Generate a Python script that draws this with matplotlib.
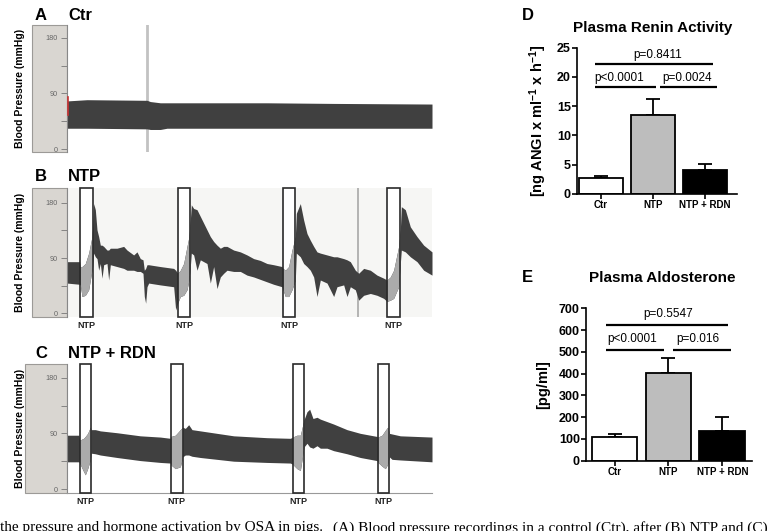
import numpy as np
import matplotlib
matplotlib.use("Agg")
import matplotlib.pyplot as plt
from matplotlib.patches import Rectangle

plt.rcParams["font.family"] = ["Liberation Sans", "DejaVu Sans"]
plt.rcParams["mathtext.fontset"] = "custom"
plt.rcParams["mathtext.rm"] = "Liberation Sans:bold"
plt.rcParams["mathtext.bf"] = "Liberation Sans:bold"
plt.rcParams["mathtext.default"] = "bf"

# ---- blood pressure envelopes (time in min, mmHg) ----
t_ctr = [0, 6, 24, 25, 28, 30, 60, 80, 109.5]
up_ctr = [78, 80, 79, 77, 75, 75, 75, 74, 73]
lo_ctr = [34, 34, 33, 32, 32, 34, 34, 34, 34]

t_ntp = [0, 3.8, 4.0, 4.5, 5.5, 6.5, 7.5, 7.7, 8.0, 8.5, 9.0, 9.5, 10.0, 10.5,
         11.0, 12.0, 12.5, 13.0, 15.0, 17.0, 18.0, 20.0, 21.0, 22.0, 22.8, 23.2,
         23.6, 24.0, 24.5, 28.0, 32.0, 32.6, 33.2, 34.0, 35.0, 36.0, 36.6, 37.0,
         37.3, 38.0, 39.0, 40.0, 41.0, 42.0, 43.0, 44.0, 45.0, 46.0, 47.0, 48.0,
         50.0, 52.0, 54.0, 56.0, 58.0, 60.0, 62.0, 64.5, 64.8, 65.5, 66.5, 67.5,
         68.5, 68.8, 70.0, 71.0, 72.0, 73.0, 74.0, 75.0, 76.0, 78.0, 80.0, 81.0,
         83.0, 84.0, 85.0, 86.5, 87.5, 89.0, 91.0, 93.0, 95.0, 96.0, 97.0, 98.0,
         99.5, 100.0, 100.3, 101.5, 103.0, 105.0, 107.0, 109.5]
up_ntp = [84, 84, 76, 76, 81, 98, 125, 141, 179, 169, 136, 125, 111, 111,
          109, 103, 103, 106, 106, 109, 103, 95, 100, 89, 87, 70,
          73, 79, 79, 76, 73, 70, 65, 70, 81, 109, 125, 152,
          177, 171, 169, 158, 147, 136, 125, 117, 111, 106, 109, 109,
          103, 100, 95, 89, 86, 81, 79, 76, 73, 70, 76, 103,
          125, 163, 179, 152, 130, 119, 109, 100, 98, 95, 92, 92,
          89, 87, 84, 70, 65, 73, 70, 62, 57, 54, 59, 70,
          109, 136, 174, 169, 141, 125, 111, 100]
lo_ntp = [49, 47, 46, 27, 29, 38, 70, 76, 98, 92, 89, 70, 81, 57,
          79, 81, 54, 79, 76, 73, 70, 70, 68, 68, 65, 27,
          16, 43, 49, 46, 43, 5, 16, 27, 29, 38, 54, 76,
          98, 95, 70, 87, 84, 81, 49, 76, 40, 59, 65, 70,
          68, 68, 62, 59, 55, 51, 47, 43, 38, 27, 27, 38,
          54, 98, 92, 81, 76, 70, 59, 27, 54, 49, 27, 43,
          46, 27, 43, 38, 21, 29, 32, 29, 24, 19, 21, 24,
          43, 81, 103, 100, 92, 84, 70, 62]

t_rdn = [0, 3.6, 3.8, 5.0, 5.5, 6.2, 7.0, 7.2, 8.5, 10, 15, 22, 28, 31, 31.2,
         32.5, 34.0, 34.7, 35.5, 36.5, 37.5, 40, 45, 50, 60, 67, 67.7, 69, 70,
         71.1, 72, 72.8, 73.8, 75, 76, 78, 80, 84, 88, 93, 93.3, 94.5, 95.5,
         96.2, 96.7, 97.5, 100, 109.5]
up_rdn = [87, 87, 79, 82, 85, 90, 100, 96, 96, 94, 91, 86, 84, 82, 85,
          87, 96, 100, 98, 104, 96, 94, 90, 86, 83, 82, 84, 87, 87,
          112, 125, 129, 114, 116, 113, 109, 105, 96, 90, 85, 84, 87, 95,
          100, 90, 89, 86, 84]
lo_rdn = [44, 44, 42, 28, 23, 33, 47, 58, 57, 55, 51, 46, 43, 42, 39,
          33, 36, 52, 55, 55, 53, 51, 48, 45, 43, 42, 40, 33, 30,
          68, 74, 68, 66, 70, 66, 66, 62, 57, 51, 46, 43, 37, 33,
          40, 52, 48, 47, 44]

# NTP application windows (min)
ntp_windows_b = [(4.0, 7.7), (33.2, 37.0), (64.8, 68.5), (96.0, 100.0)]
ntp_windows_c = [(3.8, 7.2), (31.2, 34.7), (67.7, 71.1), (93.3, 96.7)]

# ---- bar charts ----
groups = ["Ctr", "NTP", "NTP + RDN"]
renin = [2.7, 13.5, 4.1]
renin_sem = [0.4, 2.7, 1.1]
aldo = [110, 401, 138]
aldo_sem = [12, 72, 64]
renin_p = ["p=0.8411", "p<0.0001", "p=0.0024"]
aldo_p = ["p=0.5547", "p<0.0001", "p=0.016"]

W, H = 775, 531
fig = plt.figure(figsize=(W / 100, H / 100), dpi=100)


def px_rect(l, t, r, b):
    return [l / W, 1 - b / H, (r - l) / W, (b - t) / H]


def trace_panel(l, t, r, b, strip_l, tt, up, lo, ylim, letter, title, title_y,
                windows=(), label_y=None, bg="white", bottom=False):
    ax = fig.add_axes(px_rect(l, t, r, b))
    ax.set_facecolor(bg)
    fig.patches.append(Rectangle((strip_l / W, 1 - b / H), (l - strip_l) / W, (b - t) / H,
                                 transform=fig.transFigure, fc="#d9d6d1", ec="#9c9a97",
                                 lw=0.8, zorder=-1))
    tt, up, lo = np.array(tt), np.array(up), np.array(lo)
    ax.set_xlim(0, 109.5)
    ax.set_ylim(*ylim)
    for a, e in windows:
        ax.axvspan(a, e, color="white", zorder=1)
    ax.fill_between(tt, lo, up, color="#404040", lw=0, zorder=2)
    for a, e in windows:
        m = (tt >= a) & (tt <= e)
        ax.fill_between(tt[m], lo[m], up[m], color="#ababab", lw=0, zorder=3)
        ax.add_patch(Rectangle((a, ylim[0]), e - a, ylim[1] - ylim[0], fill=False,
                               ec="#2a2a2a", lw=1.2, zorder=4, clip_on=False))
        ya = (b - label_y) / (b - t)
        ax.text((a + e) / 2, ya, "NTP", transform=ax.get_xaxis_transform(),
                ha="center", va="center", fontsize=6.5, fontweight="bold", color="#222")
    for s in ["top", "right"]:
        ax.spines[s].set_visible(False)
    ax.spines["bottom"].set_visible(bottom)
    ax.spines["bottom"].set_color("#999")
    ax.spines["left"].set_color("#888")
    ax.spines["left"].set_linewidth(0.8)
    ax.set_xticks([])
    ax.set_yticks([0, 90, 180])
    ax.set_yticks([45, 135], minor=True)
    ax.tick_params(axis="y", which="both", length=4, width=0.6, color="#777",
                   labelsize=5.2, labelcolor="#666", pad=3)
    fig.text(20 / W, 1 - (t + b) / 2 / H, "Blood Pressure (mmHg)", rotation=90,
             ha="center", va="center", fontsize=7.5, fontweight="bold")
    fig.text(35 / W, 1 - title_y / H, letter, ha="left", va="center",
             fontsize=12, fontweight="bold")
    fig.text(68 / W, 1 - title_y / H, title, ha="left", va="center",
             fontsize=12, fontweight="bold")
    return ax


axA = trace_panel(67, 25, 432, 152, 32, t_ctr, up_ctr, lo_ctr, (-4.3, 200.4),
                  "A", "Ctr", 15)
axA.axvline(24.1, color="#c2c2c2", lw=2, zorder=1.5)
axA.plot([0.15, 0.15], [55, 84], color="#c83232", lw=1.2, zorder=3)

axB = trace_panel(67, 188.3, 432, 316.7, 32, t_ntp, up_ntp, lo_ntp, (-6, 204),
                  "B", "NTP", 177, ntp_windows_b, 326, bg="#f6f6f4")
axB.axvline(87.3, color="#a8a8a8", lw=1.2, zorder=1.5)

axC = trace_panel(67, 364.3, 432, 492.7, 25, t_rdn, up_rdn, lo_rdn, (-5.9, 201.6),
                  "C", "NTP + RDN", 354, ntp_windows_c, 501, bottom=True)


def bar_panel(l, t, r, b, vals, sem, ylim, ystep, xlim, spans, heights, labels,
              text_x, text_dy, title, title_x, title_y, letter, letter_y,
              ylabel, ylabel_x, ylabel_size):
    ax = fig.add_axes(px_rect(l, t, r, b))
    x = np.arange(len(groups))
    ax.bar(x, vals, width=0.85, color=["white", "#bdbdbd", "black"],
           edgecolor="black", lw=1.3, zorder=2)
    ax.errorbar(x, vals, yerr=[np.zeros(len(x)), sem], fmt="none", ecolor="black",
                elinewidth=1.3, capsize=5, capthick=1.3, zorder=1)
    ax.set_xlim(*xlim)
    ax.set_ylim(*ylim)
    ax.set_yticks(np.arange(0, ylim[1] + 1, ystep))
    ax.set_xticks(x)
    ax.set_xticklabels(groups)
    for s in ["top", "right"]:
        ax.spines[s].set_visible(False)
    for s in ["left", "bottom"]:
        ax.spines[s].set_linewidth(1.2)
    ax.tick_params(axis="y", length=3.5, width=1.2, pad=1, labelsize=9)
    ax.tick_params(axis="x", length=3.5, width=1.2, pad=1, labelsize=7)
    for lab in ax.get_yticklabels() + ax.get_xticklabels():
        lab.set_fontweight("bold")
    for (x0, x1), h, txt, tx in zip(spans, heights, labels, text_x):
        ax.plot([x0, x1], [h, h], color="black", lw=1.6, clip_on=False,
                solid_capstyle="butt")
        ax.text(tx, h + text_dy, txt, ha="center", va="center", fontsize=8.5)
    fig.text(title_x / W, 1 - title_y / H, title, ha="center", va="center",
             fontsize=11, fontweight="bold")
    fig.text(522 / W, 1 - letter_y / H, letter, ha="left", va="center",
             fontsize=12, fontweight="bold")
    fig.text(ylabel_x / W, 1 - (t + b) / 2 / H, ylabel, rotation=90, ha="center",
             va="center", fontsize=ylabel_size, fontweight="bold")
    return ax


bar_panel(577, 47.7, 737, 194, renin, renin_sem, (0, 25), 5, (-0.46, 2.61),
          [(-0.12, 2.15), (-0.12, 1.06), (1.13, 2.23)], [22.15, 18.2, 18.2],
          renin_p, [1.08, 0.35, 1.65], 1.65, "Plasma Renin Activity", 653, 28,
          "D", 15, r"[ng ANGI x ml$^{-1}$ x h$^{-1}$]", 538, 10.5)

bar_panel(586, 308.3, 752, 460.7, aldo, aldo_sem, (0, 700), 100, (-0.53, 2.55),
          [(-0.16, 2.1), (-0.16, 0.92), (1.08, 2.16)], [623, 509, 509],
          aldo_p, [0.99, 0.32, 1.55], 52, "Plasma Aldosterone", 662, 278,
          "E", 278, "[pg/ml]", 543, 10.5)

# caption line cut off at the bottom of the image
serif = ["Liberation Serif", "DejaVu Serif"]
fig.text(0, 1 - 521 / H, "the pressure and hormone activation by OSA in pigs.",
         ha="left", va="top", fontsize=11, family=serif)
fig.text(333 / W, 1 - 521 / H,
         "(A) Blood pressure recordings in a control (Ctr), after (B) NTP and (C)",
         ha="left", va="top", fontsize=11, family=serif)

fig.savefig("out.png", dpi=100)
